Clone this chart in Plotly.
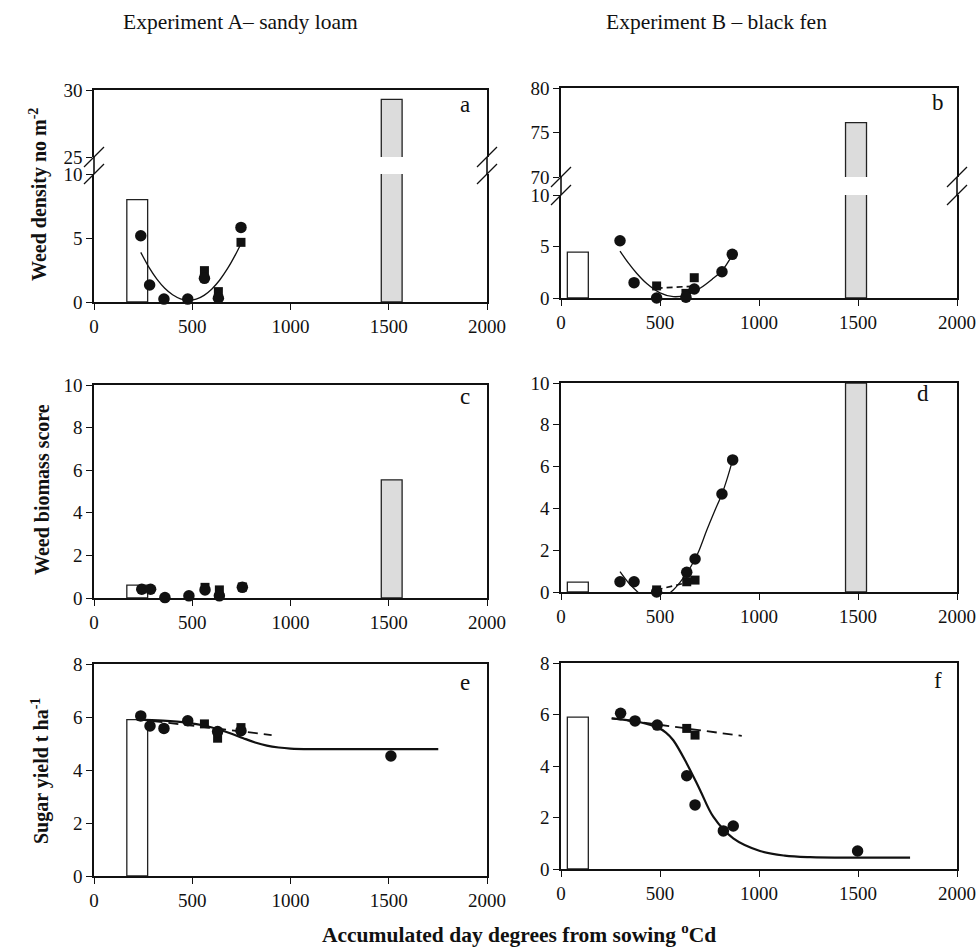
import plotly.graph_objects as go

# ---------------- data ----------------
x_ticks = [0, 500, 1000, 1500, 2000]

bar_x_A = [220, 1515]
bar_x_B = [85, 1490]
bar_w = 106

a_bars = [8.0, 29.3]
a_circ_x = [238, 283, 356, 477, 562, 633, 748]
a_circ_y = [5.18, 1.33, 0.23, 0.23, 1.85, 0.29, 5.83]
a_sq_x = [562, 633, 748]
a_sq_y = [2.45, 0.81, 4.66]
a_fit_x = [238, 280, 320, 360, 400, 440, 480, 520, 560, 600, 640, 680, 720, 748]
a_fit_y = [3.88, 2.70, 1.78, 1.07, 0.56, 0.25, 0.15, 0.22, 0.52, 1.02, 1.72, 2.62, 3.70, 4.55]

b_bars = [4.45, 76.1]
b_circ_x = [298, 369, 483, 631, 673, 813, 865]
b_circ_y = [5.56, 1.49, 0.0, 0.07, 0.87, 2.55, 4.24]
b_sq_x = [483, 631, 673]
b_sq_y = [1.17, 0.45, 1.97]
b_fit_x = [298, 340, 382, 433, 500, 567, 635, 702, 769, 813, 865]
b_fit_y = [4.56, 3.40, 2.40, 1.40, 0.50, 0.13, 0.29, 0.94, 1.91, 2.65, 4.17]
b_dash_x = [483, 673]
b_dash_y = [0.95, 1.15]

c_bars = [0.6, 5.55]
c_circ_x = [243, 288, 361, 483, 565, 638, 755]
c_circ_y = [0.41, 0.41, 0.02, 0.10, 0.38, 0.10, 0.50]
c_sq_x = [565, 638, 755]
c_sq_y = [0.50, 0.38, 0.52]

d_bars = [0.47, 10.0]
d_circ_x = [298, 369, 483, 635, 677, 813, 867]
d_circ_y = [0.49, 0.49, 0.0, 0.94, 1.58, 4.69, 6.32]
d_sq_x = [483, 635, 677]
d_sq_y = [0.10, 0.49, 0.57]
d_fit_x = [298, 340, 382, 420, 470, 520, 567, 600, 635, 677, 700, 736, 775, 813, 840, 867]
d_fit_y = [0.97, 0.45, 0.05, -0.25, -0.40, -0.25, 0.10, 0.45, 0.90, 1.58, 2.05, 2.95, 3.85, 4.69, 5.45, 6.32]
d_dash_x = [483, 635]
d_dash_y = [0.10, 0.45]

e_bar = [5.9]
e_circ_x = [238, 285, 356, 477, 629, 748, 1511]
e_circ_y = [6.04, 5.66, 5.57, 5.86, 5.45, 5.48, 4.53]
e_sq_x = [562, 629, 748]
e_sq_y = [5.74, 5.20, 5.60]
e_fit_x = [217, 350, 477, 560, 640, 700, 760, 820, 880, 940, 1000, 1100, 1300, 1752]
e_fit_y = [5.90, 5.86, 5.78, 5.68, 5.52, 5.37, 5.20, 5.04, 4.92, 4.85, 4.81, 4.79, 4.79, 4.79]
e_dash_x = [217, 904]
e_dash_y = [5.92, 5.32]

f_bar = [5.9]
f_circ_x = [301, 374, 486, 635, 677, 820, 870, 1498]
f_circ_y = [6.05, 5.75, 5.59, 3.62, 2.49, 1.48, 1.67, 0.70]
f_sq_x = [635, 677]
f_sq_y = [5.46, 5.20]
f_fit_x = [256, 400, 486, 530, 567, 635, 702, 769, 870, 1005, 1130, 1258, 1500, 1763]
f_fit_y = [5.85, 5.70, 5.50, 5.30, 5.00, 4.10, 3.07, 2.03, 1.19, 0.70, 0.52, 0.46, 0.44, 0.44]
f_dash_x = [256, 913]
f_dash_y = [5.85, 5.17]

# ---------------- layout helpers ----------------
FW, FH = 980, 948

def px(xp):
    return xp / FW

def py(yp):
    return 1 - yp / FH

SERIF = "Liberation Serif, Times New Roman, serif"
TICKFONT = dict(family=SERIF, size=19, color="#111")
LW = 1.6

colA = (94, 487)
colB = (561, 957)
boxes = {
    1: (colA, (302, 174)),
    2: (colA, (157, 90)),
    3: (colB, (298, 195)),
    4: (colB, (177, 88)),
    5: (colA, (598, 385)),
    6: (colB, (592, 383)),
    7: (colA, (876, 664)),
    8: (colB, (869, 663)),
}
yranges = {1: [0, 10], 2: [25, 30], 3: [0, 10], 4: [70, 80],
           5: [0, 10], 6: [0, 10], 7: [0, 8], 8: [0, 8]}
yticks = {1: [0, 5, 10], 2: [25, 30], 3: [0, 5, 10], 4: [70, 75, 80],
          5: [0, 2, 4, 6, 8, 10], 6: [0, 2, 4, 6, 8, 10],
          7: [0, 2, 4, 6, 8], 8: [0, 2, 4, 6, 8]}
upper = {2, 4}

layout = dict(
    width=FW, height=FH,
    margin=dict(l=0, r=0, t=0, b=0, pad=0, autoexpand=False),
    paper_bgcolor="white", plot_bgcolor="white",
    showlegend=False, barmode="overlay",
    font=dict(family=SERIF, color="#111"),
)

for i, ((x0, x1), (yb, yt)) in boxes.items():
    xa = dict(domain=[px(x0), px(x1)], range=[0, 2000], anchor=f"y{i}",
              showgrid=False, zeroline=False, showline=True, linecolor="#111",
              linewidth=LW, tickfont=TICKFONT, fixedrange=True, automargin=False)
    if i in upper:
        xa.update(side="top", ticks="", showticklabels=False, mirror=False)
    else:
        xa.update(ticks="outside", ticklen=6, tickwidth=1.2, tickcolor="#111",
                  tickvals=x_ticks, ticktext=[str(v) for v in x_ticks],
                  mirror=(i >= 5))
    ya = dict(domain=[py(yb), py(yt)], range=yranges[i], anchor=f"x{i}",
              showgrid=False, zeroline=False, showline=True, linecolor="#111",
              linewidth=LW, mirror=True, ticks="outside", ticklen=6,
              tickwidth=1.2, tickcolor="#111", tickvals=yticks[i],
              tickfont=TICKFONT, fixedrange=True, automargin=False)
    layout[f"xaxis{i}"] = xa
    layout[f"yaxis{i}"] = ya

fig = go.Figure()

WHITE = "white"
GREY = "#dcdcdc"
EDGE = "#222"

def add_bars(xs, ys, ax, colors):
    fig.add_trace(go.Bar(x=xs, y=ys, width=[bar_w] * len(xs),
                         marker=dict(color=colors, line=dict(color=EDGE, width=1.3)),
                         xaxis=f"x{ax}", yaxis=f"y{ax}", hoverinfo="skip"))

def add_line(xs, ys, ax, width=1.3, dash="solid", spline=True):
    fig.add_trace(go.Scatter(x=xs, y=ys, mode="lines",
                             line=dict(color="#111", width=width, dash=dash,
                                       shape="spline" if spline else "linear",
                                       smoothing=1.0),
                             xaxis=f"x{ax}", yaxis=f"y{ax}", hoverinfo="skip"))

def add_pts(xs, ys, ax, symbol, size):
    fig.add_trace(go.Scatter(x=xs, y=ys, mode="markers", cliponaxis=False,
                             marker=dict(symbol=symbol, size=size, color="#111",
                                         line=dict(width=0)),
                             xaxis=f"x{ax}", yaxis=f"y{ax}"))

CS, SS = 11.5, 9
for ax in (1, 2):
    add_bars(bar_x_A, a_bars, ax, [WHITE, GREY])
add_line(a_fit_x, a_fit_y, 1)
add_pts(a_sq_x, a_sq_y, 1, "square", SS)
add_pts(a_circ_x, a_circ_y, 1, "circle", CS)
for ax in (3, 4):
    add_bars(bar_x_B, b_bars, ax, [WHITE, GREY])
add_line(b_fit_x, b_fit_y, 3)
add_line(b_dash_x, b_dash_y, 3, width=1.6, dash="6px,4px", spline=False)
add_pts(b_sq_x, b_sq_y, 3, "square", SS)
add_pts(b_circ_x, b_circ_y, 3, "circle", CS)
add_bars(bar_x_A, c_bars, 5, [WHITE, GREY])
add_pts(c_sq_x, c_sq_y, 5, "square", SS)
add_pts(c_circ_x, c_circ_y, 5, "circle", CS)
add_bars(bar_x_B, d_bars, 6, [WHITE, GREY])
add_line(d_fit_x, d_fit_y, 6)
add_line(d_dash_x, d_dash_y, 6, width=1.6, dash="6px,4px", spline=False)
add_pts(d_sq_x, d_sq_y, 6, "square", SS)
add_pts(d_circ_x, d_circ_y, 6, "circle", CS)
add_bars(bar_x_A[:1], e_bar, 7, [WHITE])
add_line(e_dash_x, e_dash_y, 7, width=1.8, dash="10px,6px", spline=False)
add_line(e_fit_x, e_fit_y, 7, width=2.2)
add_pts(e_sq_x, e_sq_y, 7, "square", SS)
add_pts(e_circ_x, e_circ_y, 7, "circle", CS)
add_bars(bar_x_B[:1], f_bar, 8, [WHITE])
add_line(f_dash_x, f_dash_y, 8, width=1.8, dash="10px,6px", spline=False)
add_line(f_fit_x, f_fit_y, 8, width=2.2)
add_pts(f_sq_x, f_sq_y, 8, "square", SS)
add_pts(f_circ_x, f_circ_y, 8, "circle", CS)

shapes = []
for lo, up in ((1, 2), (3, 4)):
    (x0, x1), (_, lo_top) = boxes[lo]
    _, (up_bot, _) = boxes[up]
    for xe in (x0, x1):
        shapes.append(dict(type="line", xref="paper", yref="paper",
                           x0=px(xe), x1=px(xe), y0=py(lo_top), y1=py(up_bot),
                           line=dict(color="#111", width=LW)))
        for ye in (lo_top, up_bot):
            shapes.append(dict(type="line", xref="paper", yref="paper",
                               x0=px(xe - 10), x1=px(xe + 10),
                               y0=py(ye + 10), y1=py(ye - 10),
                               line=dict(color="#111", width=1.3)))
layout["shapes"] = shapes

ann = []
def text(t, x, y, size, bold=False, angle=0):
    ann.append(dict(text=f"<b>{t}</b>" if bold else t, x=px(x), y=py(y),
                    xref="paper", yref="paper", showarrow=False,
                    textangle=angle, xanchor="center", yanchor="middle",
                    font=dict(family=SERIF, size=size, color="#111")))

text("Experiment A\u2013 sandy loam", 240, 22, 21.5)
text("Experiment B \u2013 black fen", 716, 22, 21.5)
text("Accumulated day degrees from sowing <sup>o</sup>Cd", 519, 933, 21.5, bold=True)
text("Weed density no m<sup>-2</sup>", 38, 195, 20, bold=True, angle=-90)
text("Weed biomass score", 42, 490, 20, bold=True, angle=-90)
text("Sugar yield t ha<sup>-1</sup>", 40, 771, 20, bold=True, angle=-90)
for letter, (x, y) in zip("abcdef", [(465, 104), (938, 102), (465, 396),
                                      (923, 393), (465, 682), (938, 680)]):
    text(letter, x, y, 23)
layout["annotations"] = ann

fig.update_layout(**layout)
# remove the default 8px page margin so the 980x948 figure fills the window
fig.write_html("out.html",
               config={"displayModeBar": False},
               post_script="document.body.style.margin='0';"
                           "document.body.style.overflow='hidden';")
